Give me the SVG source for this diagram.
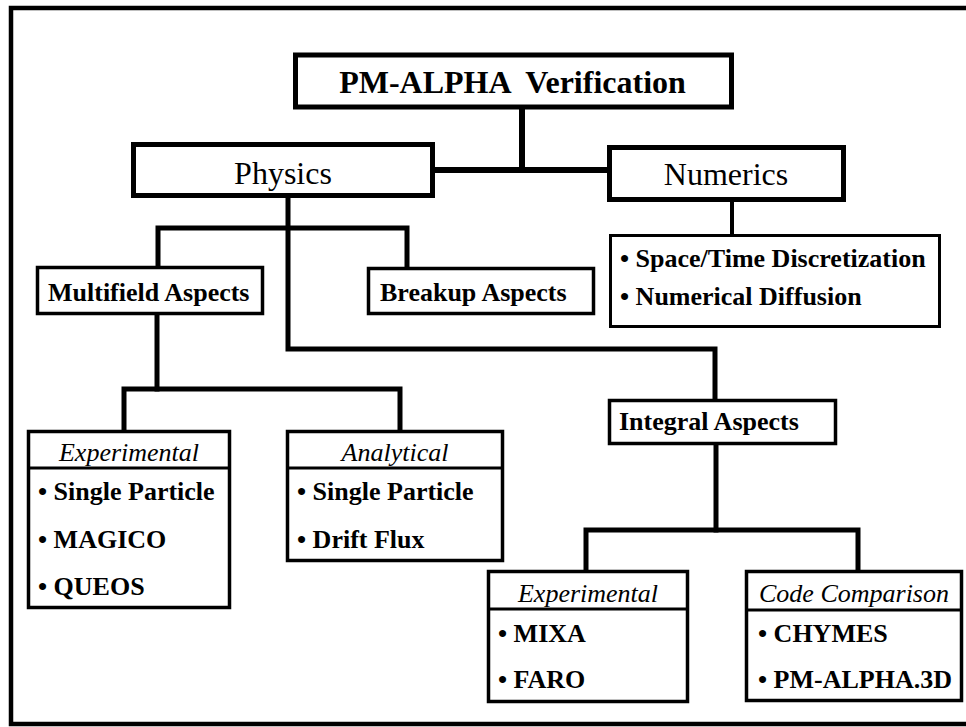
<svg xmlns="http://www.w3.org/2000/svg" width="966" height="727" viewBox="0 0 966 727">
<style>
  .frame{fill:none;stroke:#000;stroke-width:4.5}
  .bigbox{fill:#fff;stroke:#000;stroke-width:5}
  .box{fill:#fff;stroke:#000;stroke-width:3.5}
  .sep{stroke:#000;stroke-width:3}
  .conn{fill:none;stroke:#000;stroke-linejoin:miter;stroke-linecap:square}
  .thick{stroke-width:6}
  .med{stroke-width:5}
  .thin{stroke-width:4}
  text{font-family:"Liberation Serif","Times New Roman",serif;fill:#000}
  .title{font-size:32px;font-weight:bold;text-anchor:middle}
  .big{font-size:32px;text-anchor:middle}
  .b{font-size:26px;font-weight:bold}
  .hd{font-size:26px;font-style:italic;text-anchor:middle}
</style>
<rect width="966" height="727" fill="#fff"/>
<polyline class="frame" points="966,8 11,8 11,724 966,724"/>

<g id="connectors">
  <path class="conn thick" d="M522 107 V170"/>
  <path class="conn thick" d="M434 170 H608"/>
  <path class="conn thin" d="M732 202 V235"/>
  <path class="conn med" d="M288 198 V349 H715 V400"/>
  <path class="conn med" d="M158 266 V228 H407 V267"/>
  <path class="conn med" d="M157 315 V389"/>
  <path class="conn med" d="M124 430 V389 H400 V430"/>
  <path class="conn med" d="M716 445 V530"/>
  <path class="conn med" d="M586 571 V530 H858 V571"/>
</g>

<g id="verification">
  <rect class="bigbox" x="295.5" y="55" width="436" height="52"/>
  <text class="title" x="512.5" y="93" xml:space="preserve">PM-ALPHA  Verification</text>
</g>

<g id="physics">
  <rect class="bigbox" x="133.5" y="144.5" width="299" height="51"/>
  <text class="big" x="283" y="184">Physics</text>
</g>

<g id="numerics">
  <rect class="bigbox" x="609.5" y="147.5" width="234" height="52"/>
  <text class="big" x="726" y="185">Numerics</text>
</g>

<g id="numerics-items">
  <rect class="box" x="610.5" y="235.5" width="329" height="91" style="stroke-width:3"/>
  <text class="b" x="620" y="267">• Space/Time Discretization</text>
  <text class="b" x="620" y="305">• Numerical Diffusion</text>
</g>

<g id="multifield">
  <rect class="box" x="37.5" y="267.5" width="225" height="46"/>
  <text class="b" x="48" y="301">Multifield Aspects</text>
</g>

<g id="breakup">
  <rect class="box" x="368.5" y="268.5" width="225" height="45"/>
  <text class="b" x="380" y="301">Breakup Aspects</text>
</g>

<g id="integral">
  <rect class="box" x="609.5" y="400.5" width="226" height="43"/>
  <text class="b" x="619" y="430">Integral Aspects</text>
</g>

<g id="mf-experimental">
  <rect class="box" x="28.5" y="431.5" width="201" height="176"/>
  <line class="sep" x1="28.5" y1="468" x2="229.5" y2="468"/>
  <text class="hd" x="129" y="461">Experimental</text>
  <text class="b" x="38" y="500">• Single Particle</text>
  <text class="b" x="38" y="548">• MAGICO</text>
  <text class="b" x="38" y="595">• QUEOS</text>
</g>

<g id="mf-analytical">
  <rect class="box" x="287.5" y="431.5" width="215" height="129"/>
  <line class="sep" x1="287.5" y1="468" x2="502.5" y2="468"/>
  <text class="hd" x="395" y="461">Analytical</text>
  <text class="b" x="297" y="500">• Single Particle</text>
  <text class="b" x="297" y="548">• Drift Flux</text>
</g>

<g id="int-experimental">
  <rect class="box" x="488.5" y="571.5" width="199" height="130"/>
  <line class="sep" x1="488.5" y1="609" x2="687.5" y2="609"/>
  <text class="hd" x="588" y="602">Experimental</text>
  <text class="b" x="498" y="642">• MIXA</text>
  <text class="b" x="498" y="688">• FARO</text>
</g>

<g id="int-code">
  <rect class="box" x="746.5" y="571.5" width="215" height="129"/>
  <line class="sep" x1="746.5" y1="610" x2="961.5" y2="610"/>
  <text class="hd" x="854" y="602">Code Comparison</text>
  <text class="b" x="758" y="642">• CHYMES</text>
  <text class="b" x="758" y="688">• PM-ALPHA.3D</text>
</g>
</svg>
